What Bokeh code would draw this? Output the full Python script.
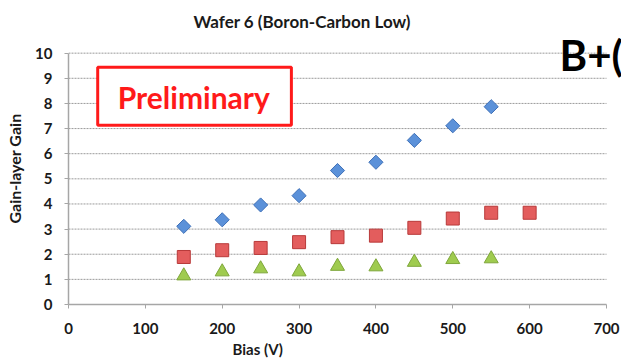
from bokeh.plotting import figure
from bokeh.models import Range1d, FixedTicker, Label, BoxAnnotation, Title
from bokeh.embed import file_html
from bokeh.resources import INLINE
import math

# Bias voltage (V) and gain-layer gain for the three measurement series
bias_blue = [150, 200, 250, 300, 350, 400, 450, 500, 550]
gain_blue = [3.11, 3.37, 3.96, 4.33, 5.33, 5.66, 6.53, 7.11, 7.87]

bias_red = [150, 200, 250, 300, 350, 400, 450, 500, 550, 600]
gain_red = [1.89, 2.16, 2.25, 2.48, 2.68, 2.74, 3.05, 3.42, 3.65, 3.65]

bias_green = [150, 200, 250, 300, 350, 400, 450, 500, 550]
gain_green = [1.14, 1.30, 1.42, 1.30, 1.52, 1.50, 1.68, 1.79, 1.82]

x_ticks = [0, 100, 200, 300, 400, 500, 600, 700]
y_ticks = [0, 1, 2, 3, 4, 5, 6, 7, 8, 9, 10]

title_text = "Wafer 6 (Boron-Carbon Low)"
x_label = "Bias (V)"
y_label = "Gain-layer Gain"
stamp_text = "Preliminary"
corner_text = "B+("

FONT = "Lato"
TEXT_COLOR = "#1a1a1a"
AXIS_COLOR = "#a6a6a6"

X_MAX = x_ticks[-1]
Y_MAX = y_ticks[-1]
# the frame runs on past the last ticks so the corner text can reach the page edges
x_view_end = X_MAX * (621 - 68) / (606 - 68)
y_view_end = Y_MAX * (304.5 - 32) / (304.5 - 52.7)

p = figure(width=621, height=364, output_backend="svg", toolbar_location=None,
           x_range=Range1d(0, x_view_end), y_range=Range1d(0, y_view_end),
           min_border_left=68, min_border_right=0, min_border_top=32, min_border_bottom=60)
p.outline_line_color = None
p.background_fill_color = "white"
p.border_fill_color = "white"

# title
p.title.text = title_text
p.title.align = "left"
p.title.offset = 125
p.title.text_font = FONT
p.title.text_font_style = "bold"
p.title.text_font_size = "17px"
p.title.text_color = TEXT_COLOR
p.title.standoff = 2

# axes
p.xaxis.ticker = FixedTicker(ticks=x_ticks)
p.yaxis.ticker = FixedTicker(ticks=y_ticks)
p.xaxis.bounds = (0, X_MAX)
p.yaxis.bounds = (0, Y_MAX)
for ax in (p.xaxis[0], p.yaxis[0]):
    ax.axis_line_color = AXIS_COLOR
    ax.axis_line_width = 1.5
    ax.major_tick_line_color = AXIS_COLOR
    ax.major_tick_out = 4
    ax.major_tick_in = 0
    ax.minor_tick_line_color = None
    ax.major_label_text_font = FONT
    ax.major_label_text_font_style = "bold"
    ax.major_label_text_font_size = "15px"
    ax.major_label_text_color = TEXT_COLOR
    ax.axis_label_text_font = FONT
    ax.axis_label_text_font_style = "bold"
    ax.axis_label_text_font_size = "16px"
    ax.axis_label_text_color = TEXT_COLOR
p.xaxis.major_label_standoff = 14
p.yaxis.major_label_standoff = 12
p.yaxis.axis_label = y_label
p.yaxis.axis_label_standoff = 8

p.add_layout(Title(text=x_label, align="left", offset=164, text_font=FONT,
                   text_font_style="bold", text_font_size="15px",
                   text_color=TEXT_COLOR, standoff=2), "below")

# dotted horizontal grid lines, stopping at the last x tick
p.xgrid.grid_line_color = None
p.ygrid.grid_line_color = None
grid_y = y_ticks[1:]
p.segment(x0=[0] * len(grid_y), y0=grid_y, x1=[X_MAX] * len(grid_y), y1=grid_y,
          line_color="#9a9a9a", line_dash="2 1", line_width=1, level="underlay")

# stamp box with its text
box = BoxAnnotation(left=38, right=290, top=9.44, bottom=7.13,
                    fill_color="white", fill_alpha=1.0,
                    line_color="#ff1a1a", line_alpha=1.0, line_width=3)
p.add_layout(box)
p.add_layout(Label(x=163, y=8.27, text=stamp_text, text_align="center", text_baseline="middle",
                   text_font=FONT, text_font_style="bold", text_font_size="30px",
                   text_color="#ff1a1a"))

# data series
p.scatter(bias_blue, gain_blue, marker="square", angle=math.pi / 4, size=10,
          fill_color="#5b91d9", line_color="#3e70b8", line_width=1)
p.scatter(bias_red, gain_red, marker="square", size=13,
          fill_color="#e35d5d", line_color="#b83a3a", line_width=1)
p.scatter(bias_green, gain_green, marker="triangle", size=14,
          fill_color="#9fcb4f", line_color="#7ea63a", line_width=1)

# large corner text running off the right edge
p.add_layout(Label(x=491, y=275, x_units="screen", y_units="screen", text=corner_text,
                   text_align="left", text_baseline="top",
                   text_font=FONT, text_font_style="bold", text_font_size="42px",
                   text_color="black"))

open("out.html", "w").write(file_html(p, INLINE))
